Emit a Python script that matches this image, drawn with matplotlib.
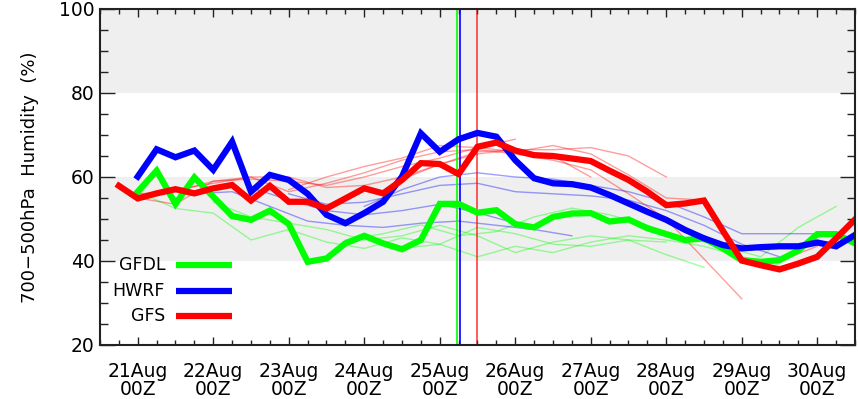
import numpy as np
import matplotlib
matplotlib.use("Agg")
import matplotlib.pyplot as plt
from matplotlib.ticker import MultipleLocator

plt.rcParams['font.family'] = ['DejaVu Sans']

# time axis in days of August (21.0 = 21Aug 00Z)
day_ticks = [21, 22, 23, 24, 25, 26, 27, 28, 29, 30]
day_labels = [f"{d}Aug\n00Z" for d in day_ticks]

# current runs, 6-hourly
gfs_start = 20.75
gfs = [57.9, 54.9, 56.1, 57.1, 56.1, 57.3, 58.1, 54.4, 57.9, 54.1, 54.1, 52.5, 54.9,
       57.3, 56.1, 59.3, 63.3, 63.1, 60.7, 67.2, 68.2, 66.3, 65.2, 65.0, 64.4, 63.8,
       61.5, 59.3, 56.5, 53.3, 53.7, 54.4, 47.2, 40.1, 39.0, 38.0, 39.4, 41.0, 45.4, 49.9]
hwrf_start = 21.0
hwrf = [60.1, 66.6, 64.7, 66.3, 61.7, 68.4, 56.5, 60.5, 59.3, 56.0, 51.0, 49.0, 51.4,
        54.1, 60.1, 70.4, 66.0, 69.0, 70.5, 69.6, 64.0, 59.7, 58.5, 58.3, 57.5, 55.7,
        53.7, 51.7, 49.8, 47.4, 45.4, 43.8, 43.0, 43.3, 43.5, 43.5, 44.4, 43.5, 46.2]
gfdl_start = 21.0
gfdl = [56.5, 61.5, 53.6, 59.9, 55.3, 50.7, 49.8, 52.0, 48.8, 39.8, 40.6, 44.2, 46.0,
        44.2, 42.8, 45.0, 53.6, 53.6, 51.5, 52.1, 48.8, 48.0, 50.5, 51.3, 51.4, 49.4,
        49.9, 47.8, 46.4, 45.0, 45.4, 43.0, 40.2, 39.8, 40.2, 42.5, 46.4, 46.4, 44.2]

# older runs, 12-hourly: (start day, values)
gfs_old = [
    (21.0, [55.0, 53.5, 59.0, 59.5, 59.0, 58.0, 60.0, 62.5, 64.5, 67.0, 69.0]),
    (21.0, [56.0, 56.5, 59.0, 60.0, 60.0, 57.5, 58.0, 60.0, 63.0, 65.5, 66.5, 66.5,
            67.0, 65.0, 60.0]),
    (21.5, [57.0, 58.5, 60.0, 56.5, 58.5, 61.0, 64.0, 66.0, 66.5, 65.5, 64.0, 61.7,
            56.0, 50.0, 40.5, 31.0]),
    (23.0, [57.0, 60.0, 62.5, 64.5, 67.5, 67.0, 66.0, 67.5, 65.5, 60.5, 55.0, 54.5,
            40.0, 40.0, 43.5]),
    (24.5, [59.5, 63.0, 66.0, 66.5, 65.0, 60.0]),
]
hwrf_old = [
    (21.75, [56.0, 56.5, 53.0, 49.5, 48.5, 48.0, 49.0, 49.5, 48.5, 47.5, 46.0]),
    (22.5, [57.5, 54.5, 52.0, 51.0, 52.0, 53.5, 51.5, 49.0]),
    (23.0, [56.0, 53.5, 54.0, 56.0, 58.0, 58.5, 56.5, 56.0, 55.5, 54.5, 52.0, 48.5,
            44.0, 41.0]),
    (24.0, [53.0, 57.0, 60.0, 61.0, 60.0, 59.5, 58.0, 56.5, 54.0, 50.5, 46.5, 46.5,
            46.5]),
]
gfdl_old = [
    (21.0, [56.5, 52.5, 51.4, 45.0, 47.5, 44.5, 43.0, 45.5, 44.0, 48.0, 46.5, 44.0,
            43.5, 45.0, 44.5]),
    (22.0, [54.0, 50.5, 49.0, 47.5, 45.0, 46.0, 48.5, 46.0, 42.0, 44.5, 46.0, 45.0,
            41.5, 38.5]),
    (23.75, [45.0, 46.5, 48.6, 46.0, 47.0, 50.5, 52.6, 51.0, 48.5, 45.5, 43.5, 41.0,
             48.0, 53.0]),
    (24.5, [43.0, 44.0, 41.0, 43.5, 42.0, 44.5, 46.0, 45.0, 43.5, 41.0, 39.0]),
]

# forecast initial times
init_gfdl = 25.232
init_hwrf = 25.268
init_gfs = 25.5

GREEN = '#00ff00'
BLUE = '#0000ff'
RED = '#ff0000'


def days(start, vals, step):
    return start + step * np.arange(len(vals))


fig = plt.figure(figsize=(8.58, 3.99), dpi=100)
ax = fig.add_axes([100 / 858, 54 / 399, 755 / 858, 336 / 399])

ax.set_xlim(20.5, 30.5)
ax.set_ylim(20, 100)

# shaded bands
ax.axhspan(40, 60, color='#efefef', lw=0, zorder=0)
ax.axhspan(80, 100, color='#efefef', lw=0, zorder=0)

for runs, c in [(gfdl_old, GREEN), (hwrf_old, BLUE), (gfs_old, RED)]:
    for start, vals in runs:
        ax.plot(days(start, vals, 0.5), vals, color=c, lw=1.0, alpha=0.38, zorder=1)

ax.axvline(init_gfdl, color=GREEN, lw=1.2, zorder=2)
ax.axvline(init_hwrf, color=BLUE, lw=1.2, zorder=2)
ax.axvline(init_gfs, color=RED, lw=1.2, alpha=0.75, zorder=2)

ax.plot(days(gfdl_start, gfdl, 0.25), gfdl, color=GREEN, lw=4.5, zorder=3,
        solid_joinstyle='miter')
ax.plot(days(hwrf_start, hwrf, 0.25), hwrf, color=BLUE, lw=4.5, zorder=3,
        solid_joinstyle='miter')
ax.plot(days(gfs_start, gfs, 0.25), gfs, color=RED, lw=4.5, zorder=3,
        solid_joinstyle='miter')

# key in lower left
for name, c, yy in [('GFDL', GREEN, 0.238), ('HWRF', BLUE, 0.161), ('GFS', RED, 0.086)]:
    ax.plot([0.1007, 0.1748], [yy, yy], color=c, lw=4.5, transform=ax.transAxes,
            solid_capstyle='butt', zorder=4)
    ax.text(0.0861, yy, name, transform=ax.transAxes, ha='right', va='center',
            fontsize=12.5, zorder=4)

ax.set_xticks(day_ticks)
ax.set_xticklabels(day_labels, fontsize=13.5, linespacing=0.95)
ax.xaxis.set_minor_locator(MultipleLocator(0.25))
ax.set_yticks([20, 40, 60, 80, 100])
ax.yaxis.set_minor_locator(MultipleLocator(5))
ax.tick_params(axis='y', labelsize=13.5, pad=4)

ax.tick_params(which='both', direction='in', top=True, right=True, width=1.0, color='#222222')
ax.tick_params(axis='x', which='major', length=6, pad=12)
ax.tick_params(axis='x', which='minor', length=3.5)
ax.tick_params(axis='y', which='major', length=11)
ax.tick_params(axis='y', which='minor', length=6)

for s in ax.spines.values():
    s.set_linewidth(1.5)
    s.set_color('#222222')
    s.set_zorder(5)

ax.set_ylabel('700\u2212500hPa  Humidity  (%)', fontsize=13, labelpad=14)

fig.savefig('out.png', dpi=100)
